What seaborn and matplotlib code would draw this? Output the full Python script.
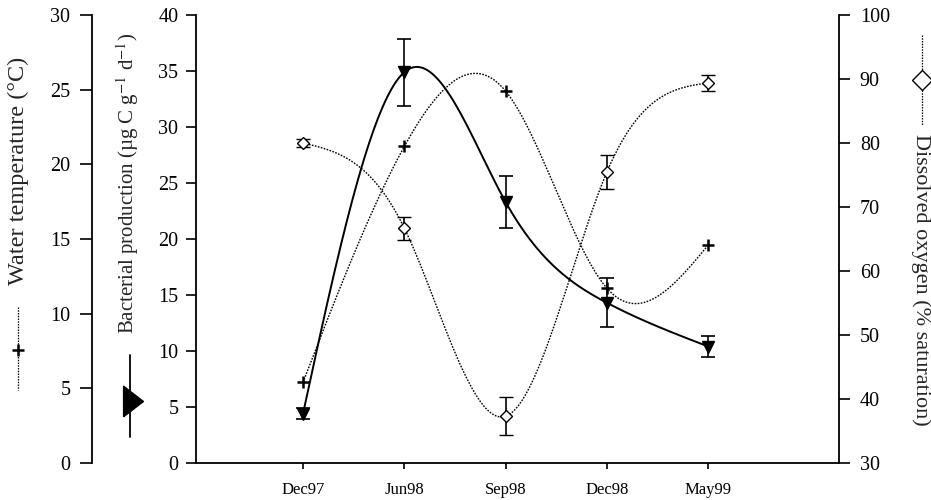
import numpy as np
import pandas as pd
import matplotlib
matplotlib.use("Agg")
import matplotlib.pyplot as plt
import seaborn as sns

# ------------------------------
# Data
# ------------------------------
months = ["Dec97", "Jun98", "Sep98", "Dec98", "May99"]
water_temp = [5.4, 21.2, 24.9, 11.7, 14.6]
bact_prod = [4.4, 34.9, 23.3, 14.3, 10.4]
bact_err = [0.5, 3.0, 2.3, 2.2, 0.9]
oxygen = [80.0, 66.7, 37.3, 75.5, 89.4]
oxygen_err = [0.6, 1.8, 3.0, 2.7, 1.3]


def natural_spline(y, n=300):
    """Smooth curve through the points (natural cubic spline)."""
    y = np.asarray(y, float)
    k = len(y)
    A = np.zeros((k, k))
    b = np.zeros(k)
    A[0, 0] = A[-1, -1] = 1
    for i in range(1, k - 1):
        A[i, i - 1], A[i, i], A[i, i + 1] = 1, 4, 1
        b[i] = 6 * (y[i + 1] - 2 * y[i] + y[i - 1])
    m = np.linalg.solve(A, b)
    xs = np.linspace(0, k - 1, n)
    idx = np.clip(xs.astype(int), 0, k - 2)
    t = xs - idx
    ys = ((1 - t) * y[idx] + t * y[idx + 1]
          + ((1 - t) ** 3 - (1 - t)) * m[idx] / 6
          + (t ** 3 - t) * m[idx + 1] / 6)
    return pd.DataFrame({"x": xs, "y": ys})


sns.set_style("white")
plt.rcParams["font.family"] = ["Liberation Serif", "DejaVu Serif"]
plt.rcParams["mathtext.fontset"] = "stix"

fig = plt.figure(figsize=(9.31, 5.0), dpi=100)
ax = fig.add_axes([196 / 931, 1 - 463 / 500, (839 - 196) / 931, 448 / 500])
ax_t = ax.twinx()
ax_o = ax.twinx()

xpos = np.arange(len(months))
dots = (0, (1.2, 1.0))

# Water temperature (dotted, + markers)
sns.lineplot(data=natural_spline(water_temp), x="x", y="y", ax=ax_t,
             color="black", lw=1.0, linestyle=dots)
ax_t.plot(xpos, water_temp, "+", color="black", ms=8, mew=1.8)

# Bacterial production (solid, filled down triangles)
sns.lineplot(data=natural_spline(bact_prod), x="x", y="y", ax=ax,
             color="black", lw=1.4)
ax.errorbar(xpos, bact_prod, yerr=bact_err, fmt="v", color="black", ms=8,
            capsize=5, elinewidth=1.2, capthick=1.2)

# Dissolved oxygen (dotted, open diamonds)
sns.lineplot(data=natural_spline(oxygen), x="x", y="y", ax=ax_o,
             color="black", lw=1.0, linestyle=dots)
ax_o.errorbar(xpos, oxygen, yerr=oxygen_err, fmt="D", color="black",
              mfc="white", ms=6.5, mew=1.0, capsize=5, elinewidth=1.2,
              capthick=1.2)

# Axes setup
ax.set_xlim(-1.056, 5.29)
ax.set_xticks(xpos)
ax.set_ylim(0, 40)
ax.set_yticks(range(0, 41, 5))
ax_t.set_ylim(0, 30)
ax_t.set_yticks(range(0, 31, 5))
ax_o.set_ylim(30, 100)
ax_o.set_yticks(range(30, 101, 10))

for a in (ax, ax_t, ax_o):
    a.set_xlabel("")
    a.set_ylabel("")
    for s in a.spines.values():
        s.set_visible(False)
        s.set_linewidth(1.3)
        s.set_color("black")
    a.tick_params(colors="black", width=1.2, labelsize=14.5)

ax.set_xticklabels(months, fontsize=12)
ax.spines["left"].set_visible(True)
ax.spines["bottom"].set_visible(True)
ax.tick_params(axis="y", direction="out", length=7.2, left=True, pad=5.5)
ax.tick_params(axis="x", direction="out", length=4.5, bottom=True, pad=9)

ax_t.spines["left"].set_visible(True)
ax_t.spines["left"].set_position(("outward", (196 - 92) * 0.72))
ax_t.yaxis.set_ticks_position("left")
ax_t.tick_params(axis="y", direction="out", length=8.5, left=True,
                 right=False, pad=7)

ax_o.spines["right"].set_visible(True)
ax_o.tick_params(axis="y", direction="out", length=8, right=True, pad=7)

# Axis titles with their symbol keys
fig.text(18 / 931, 1 - 171 / 500, "Water temperature (°C)", rotation=90,
         ha="center", va="center", fontsize=17.5)
fig.add_artist(plt.Line2D([18 / 931] * 2, [1 - 307 / 500, 1 - 390 / 500],
                          color="black", lw=0.9, linestyle=dots))
fig.add_artist(plt.Line2D([18 / 931], [1 - 350 / 500], marker="+", ms=8,
                          mew=1.8, color="black"))

fig.text(128 / 931, 1 - 183 / 500, "Bacterial production (µg C g$^{-1}$ d$^{-1}$)",
         rotation=90, ha="center", va="center", fontsize=15)
fig.add_artist(plt.Line2D([130 / 931] * 2, [1 - 355 / 500, 1 - 437 / 500],
                          color="black", lw=1.3))
tri_right = [(-0.65, -1.0), (0.65, 0.0), (-0.65, 1.0), (-0.65, -1.0)]
fig.add_artist(plt.Line2D([133 / 931], [1 - 401 / 500], marker=tri_right,
                          ms=22, color="black"))

fig.text(921 / 931, 1 - 280 / 500, "Dissolved oxygen (% saturation)",
         rotation=270, ha="center", va="center", fontsize=16)
fig.add_artist(plt.Line2D([922 / 931] * 2, [1 - 35 / 500, 1 - 125 / 500],
                          color="black", lw=0.9, linestyle=dots))
fig.add_artist(plt.Line2D([922 / 931], [1 - 80 / 500], marker="D", ms=10,
                          mfc="white", mew=1.0, color="black"))

fig.savefig("out.png", dpi=100)
